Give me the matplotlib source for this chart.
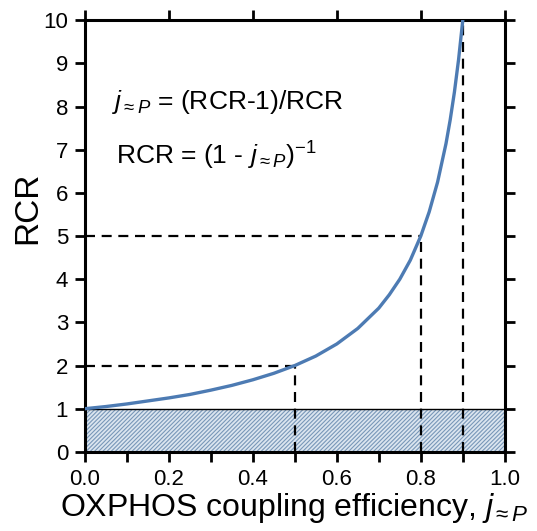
import numpy as np
import matplotlib
matplotlib.use('Agg')
import matplotlib.pyplot as plt

plt.rcParams['font.family'] = ['Liberation Sans', 'DejaVu Sans']
plt.rcParams['mathtext.fontset'] = 'custom'
plt.rcParams['mathtext.rm'] = 'Liberation Sans'
plt.rcParams['mathtext.it'] = 'Liberation Sans:italic'
plt.rcParams['hatch.linewidth'] = 0.8

# curve
j_eff = [0.0, 0.05, 0.1, 0.15, 0.2, 0.25, 0.3, 0.35, 0.4, 0.45, 0.5,
         0.55, 0.6, 0.65, 0.7, 0.725, 0.75, 0.775, 0.8, 0.82, 0.84,
         0.86, 0.87, 0.88, 0.89, 0.9]
rcr = [1.0, 1.05, 1.11, 1.18, 1.25, 1.33, 1.43, 1.54, 1.67, 1.82, 2.0,
       2.22, 2.5, 2.86, 3.33, 3.64, 4.0, 4.44, 5.0, 5.56, 6.25,
       7.14, 7.69, 8.33, 9.09, 10.0]

# marked points (dashed guides)
mark_j = [0.5, 0.8, 0.9]
mark_rcr = [2, 5, 10]

fig = plt.figure(figsize=(5.37, 5.31), dpi=100)
ax = fig.add_axes([0.158, 0.149, 0.782, 0.813])

# uncoupled region RCR < 1
ax.fill_between([0, 1], 0, 1, facecolor='#dbe5ef', edgecolor='#7897b8',
                hatch='////////', linewidth=0, zorder=1)
ax.plot([0, 1], [1, 1], color='black', lw=1.0, zorder=2)

for mj, mr in zip(mark_j, mark_rcr):
    if mr < 10:
        ax.plot([0, mj], [mr, mr], ls=(0, (4.5, 3)), color='black', lw=1.6, zorder=3)
    ax.plot([mj, mj], [0, mr], ls=(0, (4.5, 3)), color='black', lw=1.6, zorder=3)

ax.plot(j_eff, rcr, color='#4d7bb3', lw=2.4, zorder=4, solid_capstyle='round')

ax.set_xlim(0, 1)
ax.set_ylim(0, 10)
ax.set_xticks(np.arange(0, 1.01, 0.2))
ax.set_xticks(np.arange(0.1, 1.0, 0.2), minor=True)
ax.set_xticklabels(['0.0', '0.2', '0.4', '0.6', '0.8', '1.0'])
ax.set_yticks(range(0, 11))

for s in ax.spines.values():
    s.set_linewidth(2.2)
ax.tick_params(which='both', direction='out', length=7, width=2,
               labelsize=16, top=True, right=True, pad=5)
ax.tick_params(which='minor', top=False)

ax.set_ylabel('RCR', fontsize=24)
ax.yaxis.set_label_coords(-0.1, 0.565)
ax.set_xlabel(r'OXPHOS coupling efficiency, $j_{\approx P}$', fontsize=23, labelpad=1)

ax.text(0.065, 7.95, r'$j_{\approx P}$ = (RCR-1)/RCR', fontsize=19)
ax.text(0.075, 6.65, r'RCR = (1 - $j_{\approx P}$)$^{-1}$', fontsize=19)

fig.savefig('out.png', dpi=100)
